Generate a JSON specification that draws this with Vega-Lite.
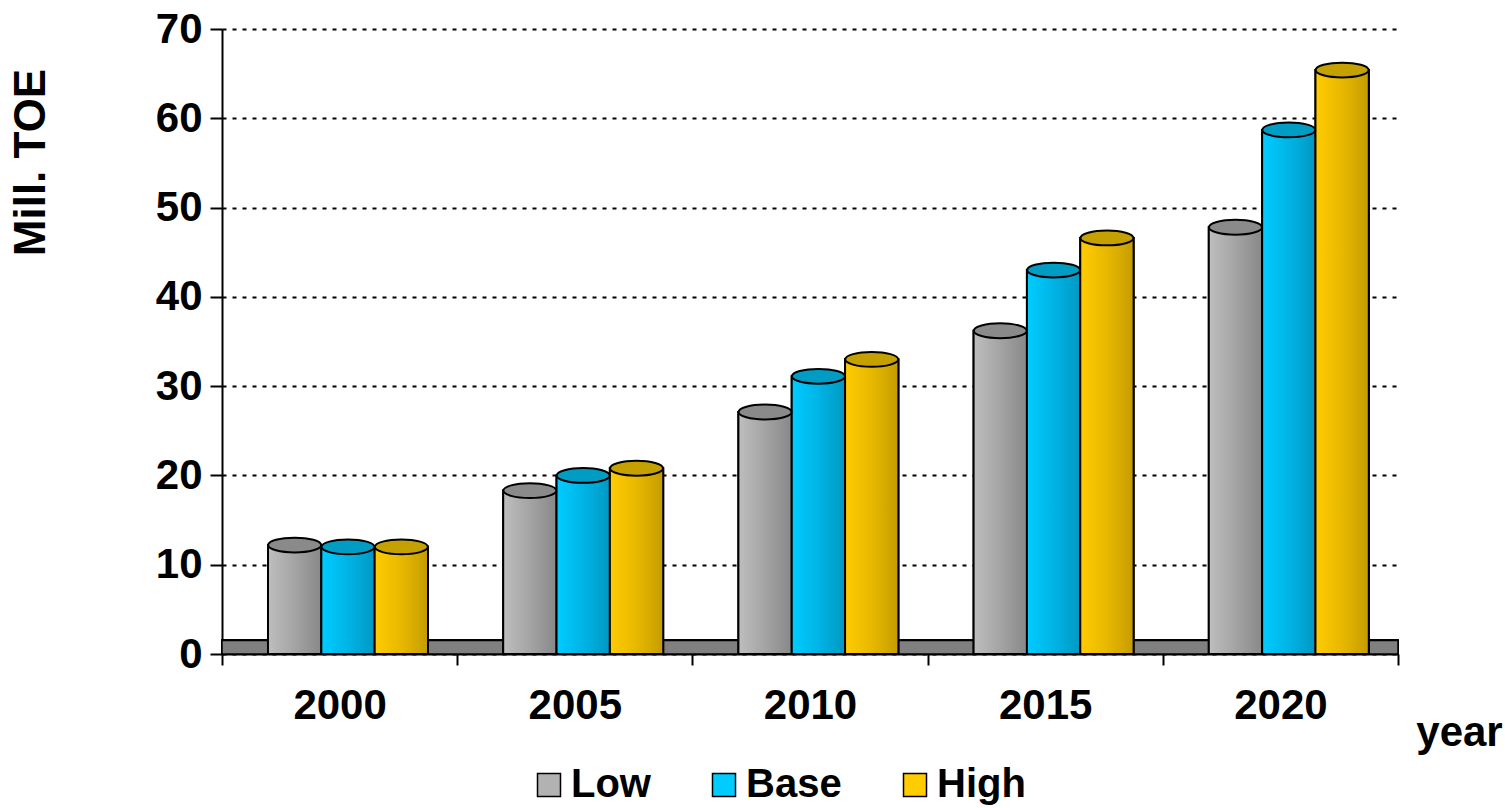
{
  "$schema": "https://vega.github.io/schema/vega-lite/v6.json",
  "width": 1176,
  "height": 625,
  "autosize": {"type": "none"},
  "padding": {"left": 222, "top": 29, "right": 107, "bottom": 154},
  "background": "white",
  "config": {
    "view": {"stroke": null},
    "font": "Liberation Sans"
  },
  "data": {
    "values": [
      {"year": "2000", "scenario": "Low", "value": 12.2},
      {"year": "2000", "scenario": "Base", "value": 12.0},
      {"year": "2000", "scenario": "High", "value": 12.0},
      {"year": "2005", "scenario": "Low", "value": 18.3},
      {"year": "2005", "scenario": "Base", "value": 20.0},
      {"year": "2005", "scenario": "High", "value": 20.8},
      {"year": "2010", "scenario": "Low", "value": 27.1},
      {"year": "2010", "scenario": "Base", "value": 31.1},
      {"year": "2010", "scenario": "High", "value": 33.0},
      {"year": "2015", "scenario": "Low", "value": 36.2},
      {"year": "2015", "scenario": "Base", "value": 43.0},
      {"year": "2015", "scenario": "High", "value": 46.6},
      {"year": "2020", "scenario": "Low", "value": 47.8},
      {"year": "2020", "scenario": "Base", "value": 58.7},
      {"year": "2020", "scenario": "High", "value": 65.4}
    ]
  },
  "encoding": {
    "x": {
      "field": "year",
      "type": "nominal",
      "scale": {"paddingInner": 0, "paddingOuter": 0},
      "axis": {
        "title": "year",
        "titleFontSize": 42,
        "titleFontWeight": "bold",
        "titleColor": "black",
        "titleX": 1237,
        "titleY": 91,
        "titleAlign": "center",
        "titleBaseline": "alphabetic",
        "labelAngle": 0,
        "labelFontSize": 42,
        "labelFontWeight": "bold",
        "labelColor": "black",
        "labelPadding": 20,
        "tickBand": "extent",
        "tickSize": 11,
        "tickWidth": 2,
        "tickColor": "black",
        "domainColor": "black",
        "domainWidth": 2,
        "grid": false
      }
    },
    "xOffset": {
      "field": "scenario",
      "type": "nominal",
      "sort": ["Low", "Base", "High"],
      "scale": {"paddingInner": 0, "paddingOuter": 0, "range": [46, 206]}
    },
    "y": {
      "field": "value",
      "type": "quantitative",
      "scale": {"domain": [0, 70], "nice": false},
      "axis": {
        "values": [0, 10, 20, 30, 40, 50, 60, 70],
        "title": "Mill. TOE",
        "titleFontSize": 44,
        "titleFontWeight": "bold",
        "titleColor": "black",
        "titleAngle": -90,
        "titleX": -178,
        "titleY": 133,
        "titleAlign": "center",
        "titleBaseline": "alphabetic",
        "labelFontSize": 42,
        "labelFontWeight": "bold",
        "labelColor": "black",
        "labelPadding": 8,
        "tickSize": 12,
        "tickWidth": 2,
        "tickColor": "black",
        "domainColor": "black",
        "domainWidth": 2,
        "grid": true,
        "gridColor": "black",
        "gridWidth": 2,
        "gridDash": [4, 6]
      }
    }
  },
  "layer": [
    {
      "mark": {"type": "rect", "fill": "#808080", "stroke": "black", "strokeWidth": 1.5},
      "encoding": {
        "x": null,
        "xOffset": null,
        "y": {"datum": 0, "type": "quantitative"},
        "y2": {"datum": 1.5}
      }
    },
    {
      "mark": {"type": "bar", "stroke": "black", "strokeWidth": 2},
      "encoding": {
        "color": {
          "field": "scenario",
          "type": "nominal",
          "sort": ["Low", "Base", "High"],
          "scale": {"domain": ["Low", "Base", "High"], "range": ["#B2B2B2", "#00CCFF", "#FFCC00"]},
          "legend": {
            "title": null,
            "orient": "none",
            "legendX": 307,
            "legendY": 736,
            "direction": "horizontal",
            "columns": 3,
            "columnPadding": 53,
            "symbolType": "square",
            "symbolSize": 529,
            "symbolStrokeColor": "black",
            "symbolStrokeWidth": 1.5,
            "symbolOpacity": 1,
            "labelFontSize": 40,
            "labelFontWeight": "bold",
            "labelColor": "black",
            "labelOffset": 2,
            "labelLimit": 300
          }
        }
      }
    },
    {
      "transform": [{"filter": "datum.scenario === 'Low'"}],
      "mark": {
        "type": "bar", "stroke": "black", "strokeWidth": 2,
        "fill": {"x1": 0, "y1": 0, "x2": 1, "y2": 0, "gradient": "linear",
          "stops": [{"offset": 0, "color": "#BEBEBE"}, {"offset": 0.5, "color": "#A4A4A4"}, {"offset": 1, "color": "#888888"}]}
      }
    },
    {
      "transform": [{"filter": "datum.scenario === 'Base'"}],
      "mark": {
        "type": "bar", "stroke": "black", "strokeWidth": 2,
        "fill": {"x1": 0, "y1": 0, "x2": 1, "y2": 0, "gradient": "linear",
          "stops": [{"offset": 0, "color": "#00CCFF"}, {"offset": 0.5, "color": "#00B4E6"}, {"offset": 1, "color": "#0098C2"}]}
      }
    },
    {
      "transform": [{"filter": "datum.scenario === 'High'"}],
      "mark": {
        "type": "bar", "stroke": "black", "strokeWidth": 2,
        "fill": {"x1": 0, "y1": 0, "x2": 1, "y2": 0, "gradient": "linear",
          "stops": [{"offset": 0, "color": "#FFCC00"}, {"offset": 0.5, "color": "#E8B800"}, {"offset": 1, "color": "#C49C00"}]}
      }
    },
    {
      "mark": {
        "type": "point",
        "filled": true,
        "shape": "M-1,0A1,0.28 0 1,1 1,0A1,0.28 0 1,1 -1,0Z",
        "size": 2809,
        "stroke": "black",
        "strokeWidth": 2,
        "opacity": 1
      },
      "encoding": {
        "fill": {
          "field": "scenario",
          "type": "nominal",
          "scale": {"domain": ["Low", "Base", "High"], "range": ["#8A8A8A", "#009CC4", "#C4A000"]},
          "legend": null
        }
      }
    }
  ]
}
